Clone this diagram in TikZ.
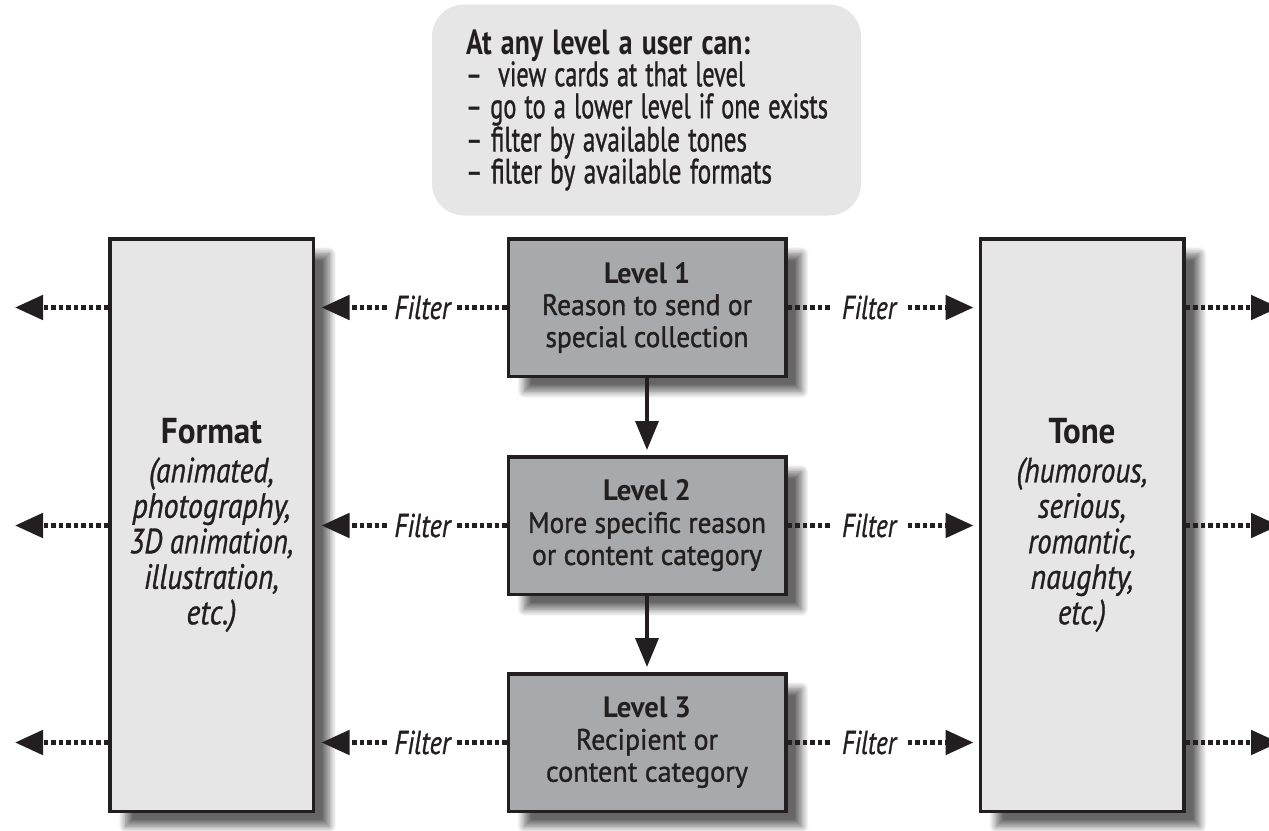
\documentclass[tikz,border=0pt]{standalone}
\usepackage{fontspec}
\usepackage{graphicx}
\setmainfont{PT Sans}[UprightFeatures={FakeBold=1.2}]
\newfontfamily\itfont{PT Sans}[ItalicFeatures={FakeBold=1.0}]
\usetikzlibrary{arrows.meta,shadows.blur}
\definecolor{ink}{HTML}{231F20}
\definecolor{lightbox}{HTML}{E6E6E6}
\definecolor{levelfill}{HTML}{A7A9AC}
% set a line of text at a given width (pt), keeping its height
\newcommand{\fw}[2]{\resizebox{#1pt}{\height}{#2}}
\begin{document}
\begin{tikzpicture}[x=1pt,y=-1pt,
  every node/.style={text=ink},
  boxshadow/.style={blur shadow={shadow xshift=16pt, shadow yshift=-15pt, shadow blur radius=7pt, shadow opacity=60, shadow blur steps=10}},
  tallbox/.style={draw=ink, line width=3.5pt, fill=lightbox, minimum width=203.5pt, minimum height=572.5pt,
    inner sep=0pt, align=center, font=\itfont\itshape\fontsize{35}{35.5}\selectfont, boxshadow},
  levelbox/.style={draw=ink, line width=3.5pt, fill=levelfill, minimum width=277.5pt, minimum height=137.5pt,
    inner sep=0pt, align=center, font=\fontsize{29.5}{32}\selectfont, boxshadow},
  callout/.style={fill=lightbox, rounded corners=32pt, minimum width=429pt, minimum height=211pt,
    inner xsep=34pt, text width=361pt, align=left, font=\fontsize{35}{32}\selectfont},
  dotarrow/.style={draw=ink, line width=5pt, dash pattern=on 4.5pt off 3pt, -{Triangle[length=28pt,width=24pt]}},
  solidarrow/.style={draw=ink, line width=3.5pt, -{Triangle[length=29pt,width=23pt]}},
  filterlabel/.style={fill=white, inner ysep=5pt, font=\itfont\itshape\fontsize{33}{36}\selectfont}
]
\useasboundingbox (0,0) rectangle (1269,830);

% callout
\node[callout] (note) at (646.5,110) {\fw{284}{\bfseries At any level a user can:}\\
\fw{279}{– \ view cards at that level}\\
\fw{362}{– go to a lower level if one exists}\\
\fw{281}{– filter by available tones}\\
\fw{306}{– filter by available formats}};

% side boxes
\node[tallbox] (fmt) at (211.5,525) {\fw{101}{\upshape\bfseries\fontsize{36}{35.5}\selectfont Format}\\[3.5pt]
\fw{125}{(animated,}\\\fw{158}{photography,}\\\fw{164}{3D animation,}\\\fw{135}{illustration,}\\\fw{50}{etc.)}};
\node[tallbox] (tone) at (1082,525) {\fw{67}{\upshape\bfseries\fontsize{36}{35.5}\selectfont Tone}\\[3.5pt]
\fw{131}{(humorous,}\\\fw{88}{serious,}\\\fw{108}{romantic,}\\\fw{103}{naughty,}\\\fw{48}{etc.)}};

% level boxes
\node[levelbox] (l1) at (647,307.5) {\fw{86}{\bfseries Level 1}\\\fw{210}{Reason to send or}\\\fw{203}{special collection}};
\node[levelbox] (l2) at (647,525.5) {\fw{88}{\bfseries Level 2}\\\fw{238}{More specific reason}\\\fw{230}{or content category}};
\node[levelbox] (l3) at (647,742.5) {\fw{88}{\bfseries Level 3}\\\fw{142}{Recipient or}\\\fw{202}{content category}};

% vertical arrows
\draw[solidarrow, shorten >=5pt] (l1.south) -- (l2.north);
\draw[solidarrow, shorten >=5pt] (l2.south) -- (l3.north);

% free ends
\coordinate (outL1) at (15,307.5);
\coordinate (outL2) at (15,525.5);
\coordinate (outL3) at (15,742.5);
\coordinate (outR1) at (1279,307.5);
\coordinate (outR2) at (1279,525.5);
\coordinate (outR3) at (1279,742.5);

% filter arrows
\foreach \l in {1,2,3}{
  \draw[dotarrow, shorten >=6.5pt] (l\l.west) -- (l\l.west -| fmt.east)
    node[filterlabel, inner xsep=7pt, pos=0.439] (fl\l) {\fw{56}{Filter}};
  \draw[dotarrow, shorten >=5pt] (l\l.east) -- (l\l.east -| tone.west)
    node[filterlabel, inner xsep=9.5pt, pos=0.427] (fr\l) {\fw{54}{Filter}};
  \draw[dotarrow] (l\l.west -| fmt.west) -- (outL\l);
  \draw[dotarrow] (l\l.east -| tone.east) -- (outR\l);
}
\end{tikzpicture}
\end{document}
